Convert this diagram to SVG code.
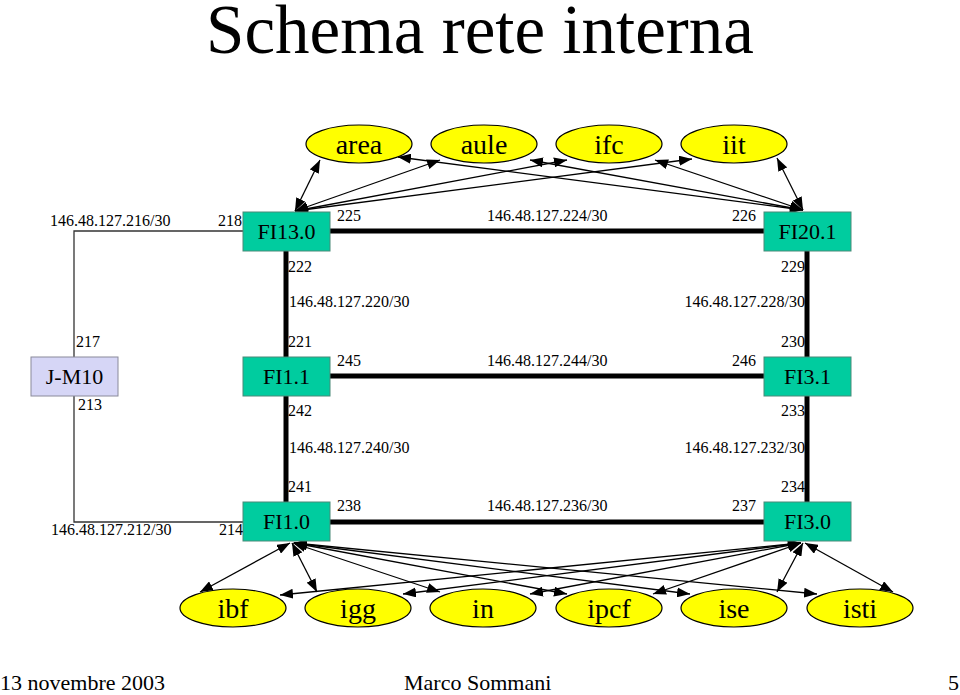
<svg xmlns="http://www.w3.org/2000/svg" width="960" height="695" viewBox="0 0 960 695" font-family="Liberation Serif, serif">
<defs>
<style>
text{fill:#000}
.lbl{font-size:16px}
.end{text-anchor:end}
.node{font-size:22px;text-anchor:middle}
.ell{font-size:28px;text-anchor:middle}
.router{fill:#00cc9f;stroke:#4a8a78;stroke-width:1}
.jm{fill:#d6d6f6;stroke:#8a8a9a;stroke-width:1}
.host{fill:#ffff00;stroke:#000;stroke-width:1.2}
.thick{stroke:#000;stroke-width:5;fill:none}
.thin{stroke:#333;stroke-width:1.3;fill:none}
.arr{stroke:#000;stroke-width:1.3;fill:none;marker-start:url(#ah);marker-end:url(#ah)}
</style>
<marker id="ah" markerUnits="userSpaceOnUse" markerWidth="13" markerHeight="10" refX="13" refY="5" orient="auto-start-reverse" viewBox="0 0 13 10">
<path d="M0,0 L13,5 L0,10 z" fill="#000"/>
</marker>
</defs>
<rect width="960" height="695" fill="#fff"/>
<text x="480" y="53" text-anchor="middle" font-size="69">Schema rete interna</text>

<g id="connectors">
<polyline class="thin" points="243,231 74,231 74,357"/>
<polyline class="thin" points="74,396 74,522 243,522"/>
<line class="thick" x1="330" y1="231" x2="764" y2="231"/>
<line class="thick" x1="330" y1="376" x2="764" y2="376"/>
<line class="thick" x1="330" y1="522" x2="764" y2="522"/>
<line class="thick" x1="286" y1="251" x2="286" y2="357"/>
<line class="thick" x1="286" y1="396" x2="286" y2="502"/>
<line class="thick" x1="807" y1="251" x2="807" y2="357"/>
<line class="thick" x1="807" y1="396" x2="807" y2="502"/>
<line class="arr" x1="295" y1="211" x2="320" y2="160"/>
<line class="arr" x1="295" y1="211" x2="440" y2="160"/>
<line class="arr" x1="295" y1="211" x2="567" y2="160"/>
<line class="arr" x1="295" y1="211" x2="692" y2="159"/>
<line class="arr" x1="803" y1="210" x2="398" y2="157"/>
<line class="arr" x1="803" y1="210" x2="530" y2="160"/>
<line class="arr" x1="803" y1="210" x2="655" y2="160"/>
<line class="arr" x1="803" y1="210" x2="777" y2="158"/>
<line class="arr" x1="290" y1="543" x2="200" y2="592"/>
<line class="arr" x1="292" y1="543" x2="317" y2="592"/>
<line class="arr" x1="293" y1="543" x2="440" y2="592"/>
<line class="arr" x1="294" y1="543" x2="567" y2="594"/>
<line class="arr" x1="294" y1="543" x2="690" y2="594"/>
<line class="arr" x1="294" y1="543" x2="817" y2="594"/>
<line class="arr" x1="801" y1="543" x2="280" y2="595"/>
<line class="arr" x1="801" y1="543" x2="403" y2="594"/>
<line class="arr" x1="801" y1="543" x2="530" y2="594"/>
<line class="arr" x1="801" y1="543" x2="653" y2="594"/>
<line class="arr" x1="803" y1="543" x2="777" y2="592"/>
<line class="arr" x1="805" y1="543" x2="893" y2="592"/>
</g>

<g id="area"><ellipse class="host" cx="359" cy="144" rx="53" ry="19"/><text class="ell" x="359" y="154">area</text></g>
<g id="aule"><ellipse class="host" cx="484" cy="144" rx="53" ry="19"/><text class="ell" x="484" y="154">aule</text></g>
<g id="ifc"><ellipse class="host" cx="609" cy="144" rx="53" ry="19"/><text class="ell" x="609" y="154">ifc</text></g>
<g id="iit"><ellipse class="host" cx="734" cy="144" rx="53" ry="19"/><text class="ell" x="734" y="154">iit</text></g>

<g id="ibf"><ellipse class="host" cx="233" cy="608" rx="53" ry="19"/><text class="ell" x="233" y="618">ibf</text></g>
<g id="igg"><ellipse class="host" cx="358" cy="608" rx="53" ry="19"/><text class="ell" x="358" y="618">igg</text></g>
<g id="in"><ellipse class="host" cx="483" cy="608" rx="53" ry="19"/><text class="ell" x="483" y="618">in</text></g>
<g id="ipcf"><ellipse class="host" cx="609" cy="608" rx="53" ry="19"/><text class="ell" x="609" y="618">ipcf</text></g>
<g id="ise"><ellipse class="host" cx="734" cy="608" rx="53" ry="19"/><text class="ell" x="734" y="618">ise</text></g>
<g id="isti"><ellipse class="host" cx="860" cy="608" rx="53" ry="19"/><text class="ell" x="860" y="618">isti</text></g>

<g id="FI13.0"><rect class="router" x="243" y="212" width="87" height="39"/><text class="node" x="286.5" y="239">FI13.0</text></g>
<g id="FI20.1"><rect class="router" x="764" y="212" width="87" height="39"/><text class="node" x="807.5" y="239">FI20.1</text></g>
<g id="J-M10"><rect class="jm" x="31" y="357" width="87" height="39"/><text class="node" x="74.5" y="384">J-M10</text></g>
<g id="FI1.1"><rect class="router" x="243" y="357" width="87" height="39"/><text class="node" x="286.5" y="384">FI1.1</text></g>
<g id="FI3.1"><rect class="router" x="764" y="357" width="87" height="39"/><text class="node" x="807.5" y="384">FI3.1</text></g>
<g id="FI1.0"><rect class="router" x="243" y="502" width="87" height="39"/><text class="node" x="286.5" y="529">FI1.0</text></g>
<g id="FI3.0"><rect class="router" x="764" y="502" width="87" height="39"/><text class="node" x="807.5" y="529">FI3.0</text></g>

<g id="labels">
<text class="lbl" x="50" y="226">146.48.127.216/30</text>
<text class="lbl end" x="242" y="226">218</text>
<text class="lbl" x="337" y="221">225</text>
<text class="lbl" x="487" y="221">146.48.127.224/30</text>
<text class="lbl end" x="756" y="221">226</text>
<text class="lbl" x="288" y="272">222</text>
<text class="lbl end" x="805" y="272">229</text>
<text class="lbl" x="289" y="307">146.48.127.220/30</text>
<text class="lbl end" x="805" y="307">146.48.127.228/30</text>
<text class="lbl" x="76" y="347">217</text>
<text class="lbl" x="288" y="347">221</text>
<text class="lbl end" x="805" y="347">230</text>
<text class="lbl" x="337" y="366">245</text>
<text class="lbl" x="487" y="366">146.48.127.244/30</text>
<text class="lbl end" x="756" y="366">246</text>
<text class="lbl" x="78" y="410">213</text>
<text class="lbl" x="288" y="416">242</text>
<text class="lbl end" x="805" y="416">233</text>
<text class="lbl" x="289" y="453">146.48.127.240/30</text>
<text class="lbl end" x="805" y="453">146.48.127.232/30</text>
<text class="lbl" x="288" y="492">241</text>
<text class="lbl end" x="805" y="492">234</text>
<text class="lbl" x="337" y="511">238</text>
<text class="lbl" x="487" y="511">146.48.127.236/30</text>
<text class="lbl end" x="756" y="511">237</text>
<text class="lbl" x="51" y="535">146.48.127.212/30</text>
<text class="lbl" x="219" y="535">214</text>
</g>

<text x="0" y="690" font-size="22">13 novembre 2003</text>
<text x="404" y="690" font-size="22">Marco Sommani</text>
<text x="959" y="690" text-anchor="end" font-size="22">5</text>
</svg>
